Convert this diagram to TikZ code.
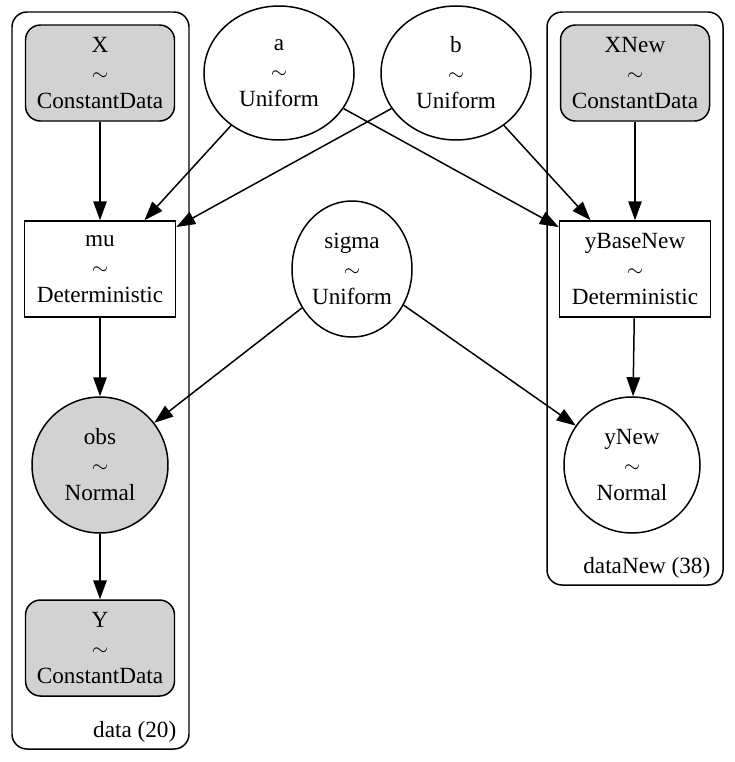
\documentclass[tikz,border=0pt]{standalone}
\usepackage{fontspec}
\setmainfont{Liberation Serif}
\usetikzlibrary{arrows.meta, shapes.geometric, positioning}

\begin{document}
\begin{tikzpicture}[
    var/.style={
        draw, line width=0.85pt, align=center, inner sep=0pt,
        font=\fontsize{13.2}{15.9}\selectfont
    },
    data/.style={var, rectangle, rounded corners=0.3cm, fill=lightgray!70,
        minimum width=2.98cm, minimum height=1.92cm},
    det/.style={var, rectangle, minimum width=3.02cm, minimum height=1.92cm},
    prior/.style={var, ellipse, minimum width=3.0cm, minimum height=2.68cm},
    lik/.style={var, circle, minimum size=2.72cm},
    plate/.style={draw, line width=0.85pt, rounded corners=0.3cm},
    platelabel/.style={anchor=east, inner sep=0pt, font=\fontsize{13.2}{15.9}\selectfont},
    >={Triangle[length=0.38cm, width=0.27cm]}, line width=0.85pt
]
\useasboundingbox (0,0) rectangle (14.68,-15.24);

% Plates
\node[plate, minimum width=3.54cm, minimum height=14.74cm] (dataplate) at (2.01,-7.61) {};
\node[plate, minimum width=3.52cm, minimum height=11.46cm] (newplate) at (12.7,-5.97) {};
\node[platelabel] (datalbl) at (3.54,-14.64) {data (20)};
\node[platelabel] (newlbl) at (14.22,-11.36) {dataNew (38)};

% Observed side
\node[data] (X) at (2.0,-1.46) {X\\$\sim$\\ConstantData};
\node[det] (mu) at (2.0,-5.38) {mu\\$\sim$\\Deterministic};
\node[lik, fill=lightgray!70] (obs) at (2.0,-9.3) {obs\\$\sim$\\Normal};
\node[data] (Y) at (2.0,-12.96) {Y\\$\sim$\\ConstantData};

% Priors
\node[prior] (a) at (5.58,-1.46) {a\\$\sim$\\Uniform};
\node[prior] (b) at (9.12,-1.46) {b\\$\sim$\\Uniform};
\node[prior, minimum width=2.4cm, minimum height=2.72cm] (sigma) at (7.04,-5.38) {sigma\\$\sim$\\Uniform};

% Prediction side
\node[data] (XNew) at (12.7,-1.46) {XNew\\$\sim$\\ConstantData};
\node[det] (yBaseNew) at (12.7,-5.38) {yBaseNew\\$\sim$\\Deterministic};
\node[lik, fill=white] (yNew) at (12.64,-9.3) {yNew\\$\sim$\\Normal};

% Edges
\draw[->] (X) -- (mu);
\draw[->] (a) -- (mu);
\draw[->] (b) -- (mu);
\draw[->] (mu) -- (obs);
\draw[->] (sigma) -- (obs);
\draw[->] (obs) -- (Y);
\draw[->] (XNew) -- (yBaseNew);
\draw[->] (a) -- (yBaseNew);
\draw[->] (b) -- (yBaseNew);
\draw[->] (yBaseNew) -- (yNew);
\draw[->] (sigma) -- (yNew);

\end{tikzpicture}
\end{document}
